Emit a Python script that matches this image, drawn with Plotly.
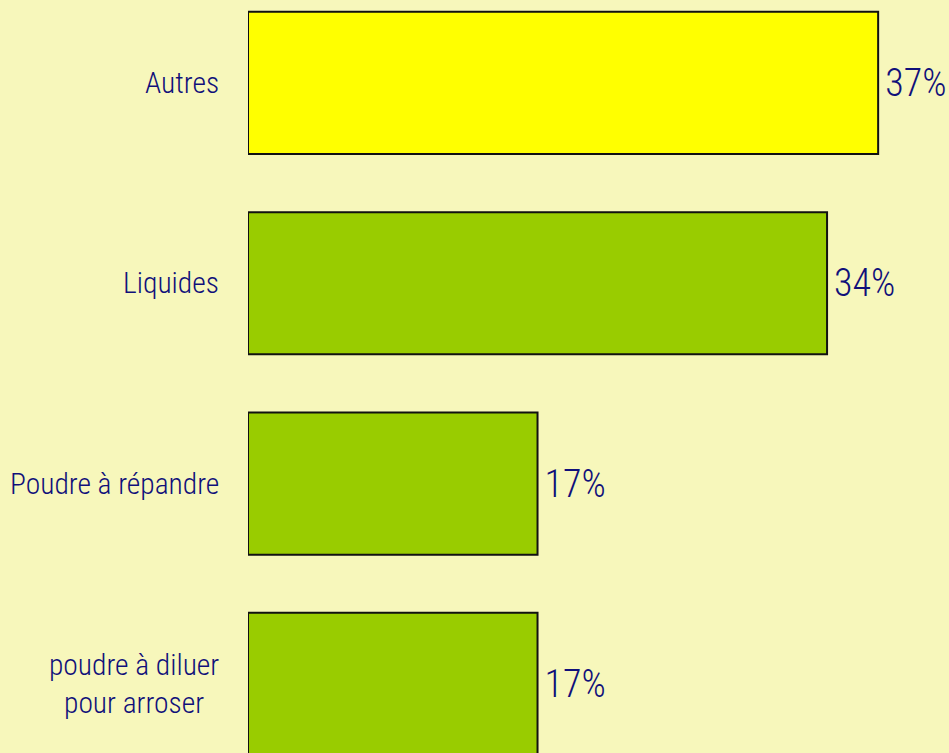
import plotly.graph_objects as go

categories = ["Autres", "Liquides", "Poudre à répandre", "poudre à diluer<br>pour arroser"]
values = [37, 34, 17, 17]
labels = ["37%", "34%", "17%", "17%"]
colors = ["#FFFF00", "#99CC00", "#99CC00", "#99CC00"]

FONT = "Roboto Condensed, Liberation Sans Narrow, DejaVu Sans Condensed, sans-serif"
NAVY = "#10107a"

fig = go.Figure()
fig.add_trace(go.Bar(
    y=list(range(len(categories))),
    x=values,
    orientation="h",
    marker=dict(color=colors, line=dict(color="#111111", width=2)),
    width=0.71,
    text=labels,
    texttemplate="\u200a%{text}",
    textposition="outside",
    textfont=dict(family=FONT, size=38, color=NAVY, weight=300),
    cliponaxis=False,
    hoverinfo="skip",
))

for i, c in enumerate(categories):
    fig.add_annotation(
        x=0, xref="paper", y=i, yref="y",
        text=c, showarrow=False, xanchor="right", align="center",
        xshift=-27,
        font=dict(family=FONT, size=29.5, color=NAVY, weight=300),
    )

fig.update_layout(
    width=949, height=753,
    margin=dict(l=248, r=0, t=0, b=0),
    paper_bgcolor="#F7F7BB",
    plot_bgcolor="#F7F7BB",
    showlegend=False,
    xaxis=dict(range=[0, 41.16], visible=False),
    yaxis=dict(range=[3.345, -0.414], visible=False),
)

fig.write_html("out.html", config={"displayModeBar": False},
               post_script="document.body.style.margin='0';document.body.style.overflow='hidden';")
